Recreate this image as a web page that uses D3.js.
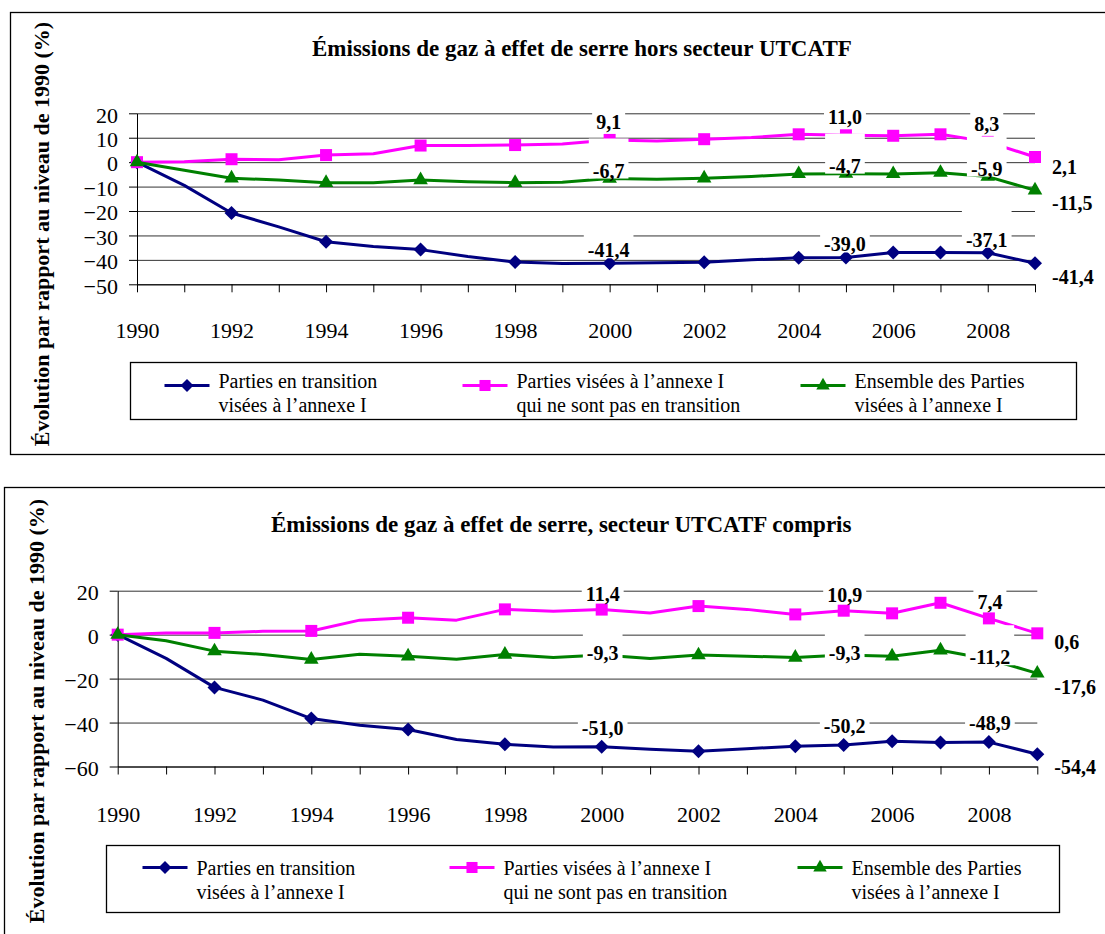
<!DOCTYPE html>
<html>
<head>
<meta charset="utf-8">
<script src="https://cdn.jsdelivr.net/npm/d3@7"></script>
<style>
body { margin: 0; background: #fff; }
svg { display: block; }
</style>
</head>
<body>
<svg id="chart" width="1105" height="934"></svg>
<script>
var serif = "'Liberation Serif', 'Times New Roman', serif";

// categories
var years = [1990, 1991, 1992, 1993, 1994, 1995, 1996, 1997, 1998, 1999,
             2000, 2001, 2002, 2003, 2004, 2005, 2006, 2007, 2008, 2009];
var yearTicks = [1990, 1992, 1994, 1996, 1998, 2000, 2002, 2004, 2006, 2008];
var markerYears = [1990, 1992, 1994, 1996, 1998, 2000, 2002, 2004, 2005, 2006, 2007, 2008, 2009];
var labelYears = [2000, 2005, 2008];

var legendLines = [
    ["Parties en transition", "visées à l’annexe I"],
    ["Parties visées à l’annexe I", "qui ne sont pas en transition"],
    ["Ensemble des Parties", "visées à l’annexe I"]
];

// hors secteur UTCATF
var eitHors = [0, -9.5, -20.8, -26.5, -32.6, -34.5, -35.8, -38.6, -40.9, -41.5,
               -41.4, -41.2, -41.0, -40.0, -39.1, -39.0, -37.0, -37.0, -37.1, -41.4];
var nonEitHors = [0, 0.2, 1.2, 1.0, 2.9, 3.4, 6.8, 6.8, 7.0, 7.4,
                  9.1, 8.7, 9.4, 10.1, 11.4, 11.0, 10.8, 11.4, 8.3, 2.1];
var annexeHors = [0, -3.3, -6.6, -7.3, -8.4, -8.4, -7.3, -8.0, -8.4, -8.2,
                  -6.7, -7.0, -6.6, -5.9, -4.8, -4.7, -4.8, -4.3, -5.9, -11.5];
var ticksHors = [20, 10, 0, -10, -20, -30, -40, -50];

// secteur UTCATF compris
var eitAvec = [0, -10.8, -24.0, -29.8, -38.2, -41.2, -43.2, -47.7, -49.9, -51.1,
               -51.0, -52.2, -53.1, -51.9, -50.8, -50.2, -48.5, -49.1, -48.9, -54.4];
var nonEitAvec = [0, 0.8, 0.8, 1.5, 1.7, 6.6, 7.7, 6.6, 11.5, 10.6,
                  11.4, 9.9, 13.0, 11.5, 9.2, 10.9, 9.7, 14.5, 7.4, 0.6];
var annexeAvec = [0, -2.8, -7.5, -9.0, -11.3, -8.9, -9.8, -11.2, -9.0, -10.4,
                  -9.3, -10.9, -9.3, -9.8, -10.4, -9.3, -9.8, -7.1, -11.2, -17.6];
var ticksAvec = [20, 0, -20, -40, -60];

var styles = {
    eit: { color: "#000080", symbol: "diamond" },
    non: { color: "#FF00FF", symbol: "square" },
    all: { color: "#008000", symbol: "triangle" }
};

function fmt(v) {
    return (v < 0 ? "-" : "") + Math.abs(v).toFixed(1).replace(".", ",");
}

function marker(sel, kind, color, scale) {
    scale = scale || 1;
    var p;
    if (kind === "diamond") {
        p = sel.append("path").attr("d", d3.symbol(d3.symbolSquare, 98 * scale)()).attr("transform", "rotate(45)");
    } else if (kind === "square") {
        p = sel.append("path").attr("d", d3.symbol(d3.symbolSquare, 144 * scale)());
    } else {
        p = sel.append("path").attr("d", d3.symbol(d3.symbolTriangle, 92 * scale)());
    }
    p.attr("fill", color);
}

var svg = d3.select("#chart");

function draw(cfg) {
    var g = svg.append("g");

    g.append("rect")
        .attr("x", cfg.frame[0]).attr("y", cfg.frame[1])
        .attr("width", 1200).attr("height", cfg.frame[2])
        .attr("fill", "none").attr("stroke", "#000").attr("stroke-width", 1.3);

    var x = d3.scalePoint().domain(years).range([cfg.left, cfg.right]);
    var y = d3.scaleLinear().domain(cfg.domain).range([cfg.bottom, cfg.top]);

    // GRID
    var grid = g.append("g")
        .attr("transform", "translate(" + cfg.left + ",0)")
        .call(d3.axisLeft(y).tickValues(cfg.ticks).tickSize(-(cfg.right - cfg.left)).tickFormat(""));
    grid.select(".domain").remove();
    grid.selectAll("line").attr("stroke", "#333");

    // Y AXIS
    var ya = g.append("g")
        .attr("transform", "translate(" + cfg.left + ",0)")
        .call(d3.axisLeft(y).tickValues(cfg.ticks).tickSize(8).tickPadding(11).tickSizeOuter(0));
    ya.attr("font-family", serif).attr("font-size", 22);
    ya.selectAll("text").attr("fill", "#000").attr("dy", "0.4em");

    // X AXIS
    g.append("g")
        .attr("transform", "translate(0," + cfg.bottom + ")")
        .call(d3.axisBottom(x).tickValues(years).tickSize(8).tickFormat("").tickSizeOuter(0));

    var xl = g.append("g")
        .attr("transform", "translate(0," + cfg.bottom + ")")
        .call(d3.axisBottom(x).tickValues(yearTicks).tickSize(0).tickFormat(d3.format("d")));
    xl.select(".domain").remove();
    xl.attr("font-family", serif).attr("font-size", 22);
    xl.selectAll("text").attr("fill", "#000").attr("y", cfg.xLabelDy).attr("dy", "0.35em");

    // LINES
    var line = d3.line()
        .x(function (d) { return x(d.year); })
        .y(function (d) { return y(d.value); });

    cfg.series.forEach(function (s) {
        var data = years.map(function (yr, i) { return { year: yr, value: s.values[i] }; });
        g.append("path")
            .datum(data)
            .attr("fill", "none")
            .attr("stroke", styles[s.key].color)
            .attr("stroke-width", 3)
            .attr("stroke-linejoin", "round")
            .attr("d", line);

        data.filter(function (d) { return markerYears.indexOf(d.year) >= 0; }).forEach(function (d) {
            var m = g.append("g").attr("transform", "translate(" + x(d.year) + "," + y(d.value) + ")");
            marker(m, styles[s.key].symbol, styles[s.key].color);
        });
    });

    // DATA LABELS (white box behind, taller above the text like the original)
    function label(tx, ty, txt, anchor, boxTop, boxBottom) {
        var lg = g.append("g");
        var t = lg.append("text")
            .attr("x", tx).attr("y", ty)
            .attr("text-anchor", anchor)
            .attr("dy", "0.35em")
            .attr("font-family", serif)
            .attr("font-size", 20)
            .attr("font-weight", "bold")
            .attr("fill", "#000")
            .text(txt);
        var bb = t.node().getBBox();
        lg.insert("rect", "text")
            .attr("x", bb.x - 4).attr("y", ty - boxTop)
            .attr("width", bb.width + 8).attr("height", boxTop + boxBottom)
            .attr("fill", "#fff");
    }

    cfg.series.forEach(function (s) {
        labelYears.forEach(function (yr) {
            var v = s.values[years.indexOf(yr)];
            label(x(yr) + cfg.labelDx, y(v) + cfg.labelDy[s.key], fmt(v), "middle", 32, 8);
        });
        var last = years[years.length - 1];
        var lv = s.values[years.length - 1];
        label(x(last) + 17, y(lv) + cfg.rightDy[s.key], fmt(lv), "start", 11, 10);
    });

    // TITLE
    g.append("text")
        .attr("x", cfg.titleX).attr("y", cfg.titleY)
        .attr("font-family", serif).attr("font-size", 23).attr("font-weight", "bold")
        .text(cfg.title);

    g.append("text")
        .attr("transform", "translate(" + cfg.yTitle[0] + "," + cfg.yTitle[1] + ") rotate(-90)")
        .attr("text-anchor", "middle")
        .attr("dy", "0.35em")
        .attr("font-family", serif).attr("font-size", 22).attr("font-weight", "bold")
        .text("Évolution par rapport au niveau de 1990 (%)");

    // LEGEND
    var L = cfg.legend;
    g.append("rect")
        .attr("x", L.x).attr("y", L.y).attr("width", L.w).attr("height", L.h)
        .attr("fill", "#fff").attr("stroke", "#000").attr("stroke-width", 1.3);

    cfg.series.forEach(function (s, i) {
        var sx = L.x + L.offsets[i];
        var st = styles[s.key];
        g.append("line")
            .attr("x1", sx).attr("x2", sx + 45)
            .attr("y1", L.y + L.sampleDy).attr("y2", L.y + L.sampleDy)
            .attr("stroke", st.color).attr("stroke-width", 3);
        var m = g.append("g").attr("transform", "translate(" + (sx + 22.5) + "," + (L.y + L.sampleDy) + ")");
        marker(m, st.symbol, st.color, 0.85);
        var t = g.append("text")
            .attr("font-family", serif).attr("font-size", 20).attr("fill", "#000");
        legendLines[i].forEach(function (ln, j) {
            t.append("tspan")
                .attr("x", sx + 54)
                .attr("y", L.y + L.lineDy[j])
                .attr("dy", "0.35em")
                .text(ln);
        });
    });
}

draw({
    frame: [10.5, 12.5, 442],
    left: 137, right: 1035, top: 113.3, bottom: 284.3,
    domain: [-50, 20], ticks: ticksHors,
    xLabelDy: 46,
    title: "Émissions de gaz à effet de serre hors secteur UTCATF",
    titleX: 312, titleY: 56,
    yTitle: [41, 234],
    labelDx: -1,
    labelDy: { eit: -13, non: -18, all: -8 },
    rightDy: { eit: 14, non: 10, all: 13 },
    series: [
        { key: "eit", values: eitHors },
        { key: "non", values: nonEitHors },
        { key: "all", values: annexeHors }
    ],
    legend: { x: 130.5, y: 362.5, w: 946, h: 57, offsets: [34, 332, 670], sampleDy: 23, lineDy: [18.5, 42] }
});

draw({
    frame: [4.5, 487.5, 500],
    left: 117.7, right: 1037.3, top: 590.7, bottom: 766.5,
    domain: [-60, 20], ticks: ticksAvec,
    xLabelDy: 47.5,
    title: "Émissions de gaz à effet de serre, secteur UTCATF compris",
    titleX: 271, titleY: 532,
    yTitle: [36, 711],
    labelDx: 1,
    labelDy: { eit: -19, non: -16, all: -2 },
    rightDy: { eit: 13, non: 8.5, all: 14 },
    series: [
        { key: "eit", values: eitAvec },
        { key: "non", values: nonEitAvec },
        { key: "all", values: annexeAvec }
    ],
    legend: { x: 106.5, y: 845.5, w: 953, h: 67, offsets: [36, 343, 691], sampleDy: 22, lineDy: [22, 46.5] }
});
</script>
</body>
</html>
